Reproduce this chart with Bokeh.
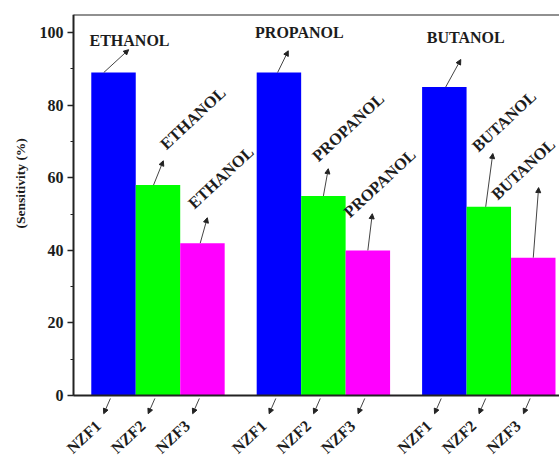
import math
from bokeh.plotting import figure
from bokeh.models import (ColumnDataSource, LabelSet, Arrow, NormalHead, Title,
                          Range1d, SingleIntervalTicker)
from bokeh.embed import file_html
from bokeh.resources import INLINE

# --- data -------------------------------------------------------------
gases = ["ETHANOL", "PROPANOL", "BUTANOL"]
samples = ["NZF1", "NZF2", "NZF3"]
ethanol = [89, 58, 42]
propanol = [89, 55, 40]
butanol = [85, 52, 38]
bar_colors = ["#0000FF", "#00FF00", "#FF00FF"]

# --- layout of groups / annotations ------------------------------------
GROUP_STEP = 3.72          # distance between gas groups (bar widths)
AXIS_X = -0.9              # where the y axis stands on the x scale
X_START, X_END = -1.867, 10.03
Y_TOP = 105
FONT = "Liberation Serif"
INK = "#1c1c1c"
LINE = "#222222"

# horizontal label above each NZF1 bar
top_text_dx = [0.36, 0.46, 0.48]
top_text_y = [97.8, 100.0, 98.6]
top_arrow_start_dx = [-0.22, -0.03, 0.03]
top_arrow_tip_dx = [0.34, 0.21, 0.37]
top_arrow_rise = [6.3, 6.0, 7.6]

# slanted labels above NZF2 / NZF3 bars (group order, NZF2 then NZF3)
slant_text_dx = [0.19, -0.18, -0.11, -0.4, -0.23, -0.8]
slant_text_rise = [2.8, 2.2, 1.7, -1.3, 0.2, -3.6]
slant_arrow_start_dx = [-0.1, -0.05, 0.0, 0.0, -0.07, 0.0]
slant_arrow_tip_dx = [0.12, 0.11, 0.11, 0.10, 0.09, 0.12]
slant_arrow_rise = [6.7, 7.0, 7.5, 10.1, 14.7, 19.3]

# sample names below the baseline
name_dx = -0.34
name_y = -7.6

values = [ethanol, propanol, butanol]
xs, tops, cols = [], [], []
for g, vals in enumerate(values):
    for j, v in enumerate(vals):
        xs.append(g * GROUP_STEP + j)
        tops.append(v)
        cols.append(bar_colors[j])

# the frame reaches below zero and left of the axis so the slanted
# sample names have room inside it
p = figure(width=559, height=464, output_backend="svg", toolbar_location=None,
           x_range=Range1d(X_START, X_END), y_range=Range1d(-19, Y_TOP),
           x_axis_type=None,
           min_border_left=30, min_border_right=0, min_border_top=14,
           min_border_bottom=0)
p.background_fill_color = "white"
p.border_fill_color = "white"
p.outline_line_color = None
p.grid.visible = False

p.vbar(x=xs, top=tops, bottom=0, width=1.0, fill_color=cols, line_color=None)

# top frame line and baseline, both starting at the y axis
p.segment(x0=[AXIS_X, AXIS_X], y0=[Y_TOP, 0], x1=[X_END + 1, X_END + 1],
          y1=[Y_TOP, 0], line_color=LINE, line_width=2)

# y axis, pinned at AXIS_X
ya = p.yaxis[0]
ya.fixed_location = AXIS_X
ya.bounds = (0, Y_TOP)
ya.ticker = SingleIntervalTicker(interval=20, num_minor_ticks=2)
ya.axis_line_width = 2
ya.axis_line_color = LINE
ya.major_tick_in = 0
ya.major_tick_out = 6
ya.minor_tick_in = 0
ya.minor_tick_out = 3
ya.major_tick_line_width = 1.5
ya.major_tick_line_color = LINE
ya.minor_tick_line_color = LINE
ya.major_label_text_font = FONT
ya.major_label_text_font_style = "bold"
ya.major_label_text_font_size = "16px"
ya.major_label_text_color = INK
ya.major_label_standoff = 4

# y axis title, starting 236 px above the bottom of the side panel
p.add_layout(Title(text="(Sensitivity (%)", align="left", offset=236,
                   text_font=FONT, text_font_style="bold",
                   text_font_size="13.5px", text_color=INK, standoff=6), "left")


def arrow(x0, y0, x1, y1):
    p.add_layout(Arrow(end=NormalHead(size=5, fill_color=LINE, line_color=LINE),
                       x_start=x0, y_start=y0, x_end=x1, y_end=y1,
                       line_color="#444444", line_width=1))


# horizontal gas labels on NZF1 bars
tx, ty, tt = [], [], []
for g, vals in enumerate(values):
    xc = g * GROUP_STEP
    tx.append(xc + top_text_dx[g])
    ty.append(top_text_y[g])
    tt.append(gases[g])
    arrow(xc + top_arrow_start_dx[g], vals[0],
          xc + top_arrow_tip_dx[g], vals[0] + top_arrow_rise[g])
p.add_layout(LabelSet(source=ColumnDataSource(dict(x=tx, y=ty, t=tt)),
                      x="x", y="y", text="t", text_align="center",
                      text_baseline="middle", text_font=FONT,
                      text_font_style="bold", text_font_size="16px",
                      text_color=INK))

# slanted gas labels on NZF2 / NZF3 bars
sx, sy, st = [], [], []
k = 0
for g, vals in enumerate(values):
    for j in (1, 2):
        xc = g * GROUP_STEP + j
        tip = vals[j] + slant_arrow_rise[k]
        arrow(xc + slant_arrow_start_dx[k], vals[j], xc + slant_arrow_tip_dx[k], tip)
        sx.append(xc + slant_text_dx[k])
        sy.append(tip + slant_text_rise[k])
        st.append(gases[g])
        k += 1
p.add_layout(LabelSet(source=ColumnDataSource(dict(x=sx, y=sy, t=st)),
                      x="x", y="y", text="t", angle=math.radians(43),
                      text_align="left", text_baseline="alphabetic",
                      text_font=FONT, text_font_style="bold",
                      text_font_size="16.5px", text_color=INK))

# slanted sample names with small arrows up to each bar foot
bx, by, bt = [], [], []
for g in range(3):
    for j in range(3):
        xc = g * GROUP_STEP + j
        arrow(xc - 0.07, -0.8, xc - 0.22, -5.0)
        bx.append(xc + name_dx)
        by.append(name_y)
        bt.append(samples[j])
p.add_layout(LabelSet(source=ColumnDataSource(dict(x=bx, y=by, t=bt)),
                      x="x", y="y", text="t", angle=math.radians(43),
                      text_align="right", text_baseline="middle",
                      text_font=FONT, text_font_style="bold",
                      text_font_size="16px", text_color=INK))

open("out.html", "w").write(file_html(p, INLINE))
